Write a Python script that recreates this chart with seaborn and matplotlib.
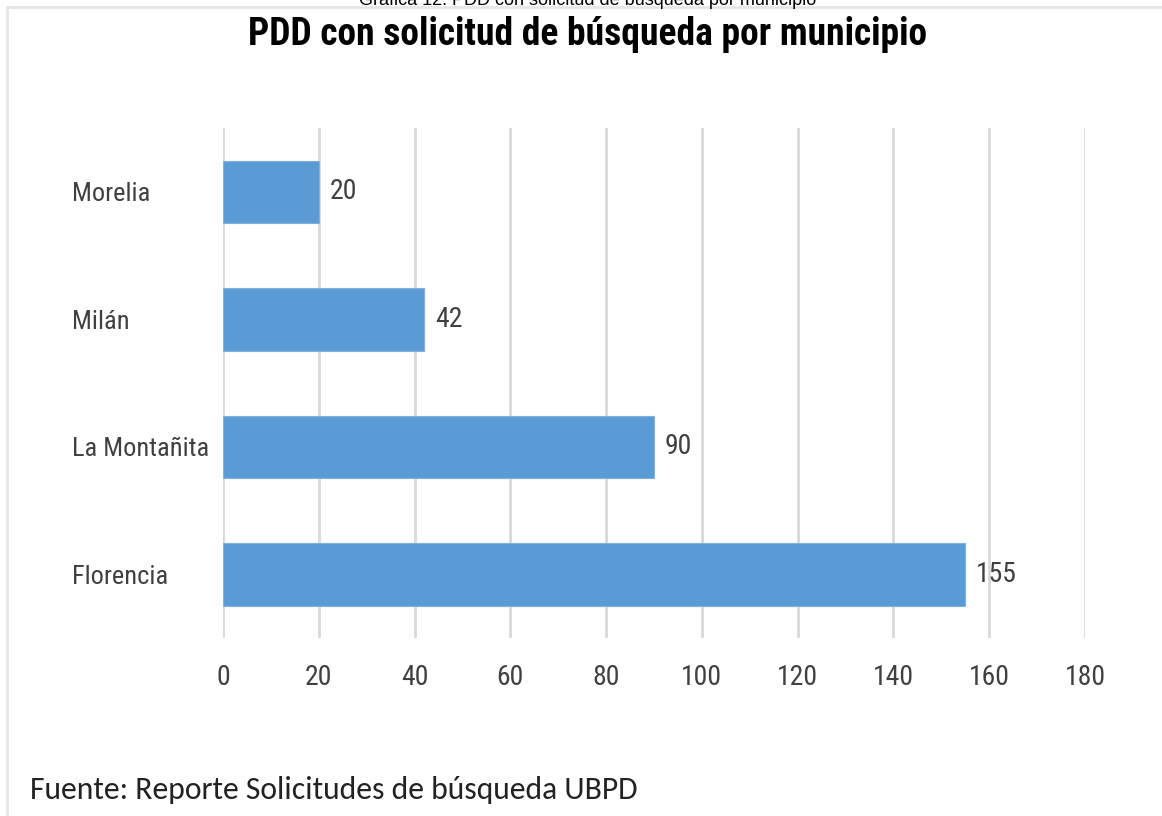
import matplotlib
matplotlib.use("Agg")
import matplotlib.pyplot as plt
import seaborn as sns
import pandas as pd
from matplotlib.patches import Rectangle

# Data
municipios = ["Morelia", "Milán", "La Montañita", "Florencia"]
solicitudes = [20, 42, 90, 155]
x_ticks = [0, 20, 40, 60, 80, 100, 120, 140, 160, 180]

df = pd.DataFrame({"municipio": municipios, "solicitudes": solicitudes})

sns.set_theme(style="white")
plt.rcParams["font.family"] = ["Roboto Condensed", "DejaVu Sans"]

fig = plt.figure(figsize=(11.62, 8.16), dpi=100)
ax = fig.add_axes([0.1919, 0.2181, 0.7418, 0.625])

sns.barplot(data=df, x="solicitudes", y="municipio", order=municipios,
            color="#5B9BD5", saturation=1, width=0.49, orient="h",
            edgecolor="#7FB2E0", linewidth=0.8, ax=ax, zorder=3)

for i, v in enumerate(solicitudes):
    ax.text(v + 2.3, i, str(v), va="center", ha="left", fontsize=20, color="#404040")

ax.set_xlim(0, 180)
ax.set_ylim(3.5, -0.5)
ax.set_xticks(x_ticks)
ax.set_xticklabels([str(t) for t in x_ticks], fontsize=20, color="#404040")
ax.tick_params(axis="x", length=0, pad=19)
# left-aligned category labels starting near x=72 px
ax.tick_params(axis="y", length=0, pad=(223 - 72) * 0.72, labelsize=19, labelcolor="#404040")
for lbl in ax.get_yticklabels():
    lbl.set_horizontalalignment("left")
ax.grid(axis="x", color="#D9D9D9", linewidth=2, zorder=0)
ax.grid(axis="y", visible=False)
for s in ax.spines.values():
    s.set_visible(False)
ax.set_xlabel("")
ax.set_ylabel("")

fig.text(0.506, 0.958, "PDD con solicitud de búsqueda por municipio",
         ha="center", va="center", fontsize=27, fontweight="bold", color="black")
fig.text(0.506, 1 - 5 / 816, "Gráfica 12. PDD con solicitud de búsqueda por municipio",
         ha="center", va="baseline", fontsize=13, color="black",
         family=["Liberation Sans", "DejaVu Sans"])
fig.text(0.026, 1 - 790 / 816, "Fuente: Reporte Solicitudes de búsqueda UBPD",
         ha="left", va="center", fontsize=22.8, color="#222222",
         family=["Carlito", "DejaVu Sans"])

fig.patches.append(Rectangle((7 / 1162, -0.01), 1.1, 1 - 6.5 / 816 + 0.01,
                             transform=fig.transFigure, fill=False,
                             edgecolor="#E6E6E6", linewidth=2))

fig.savefig("out.png", dpi=100)
